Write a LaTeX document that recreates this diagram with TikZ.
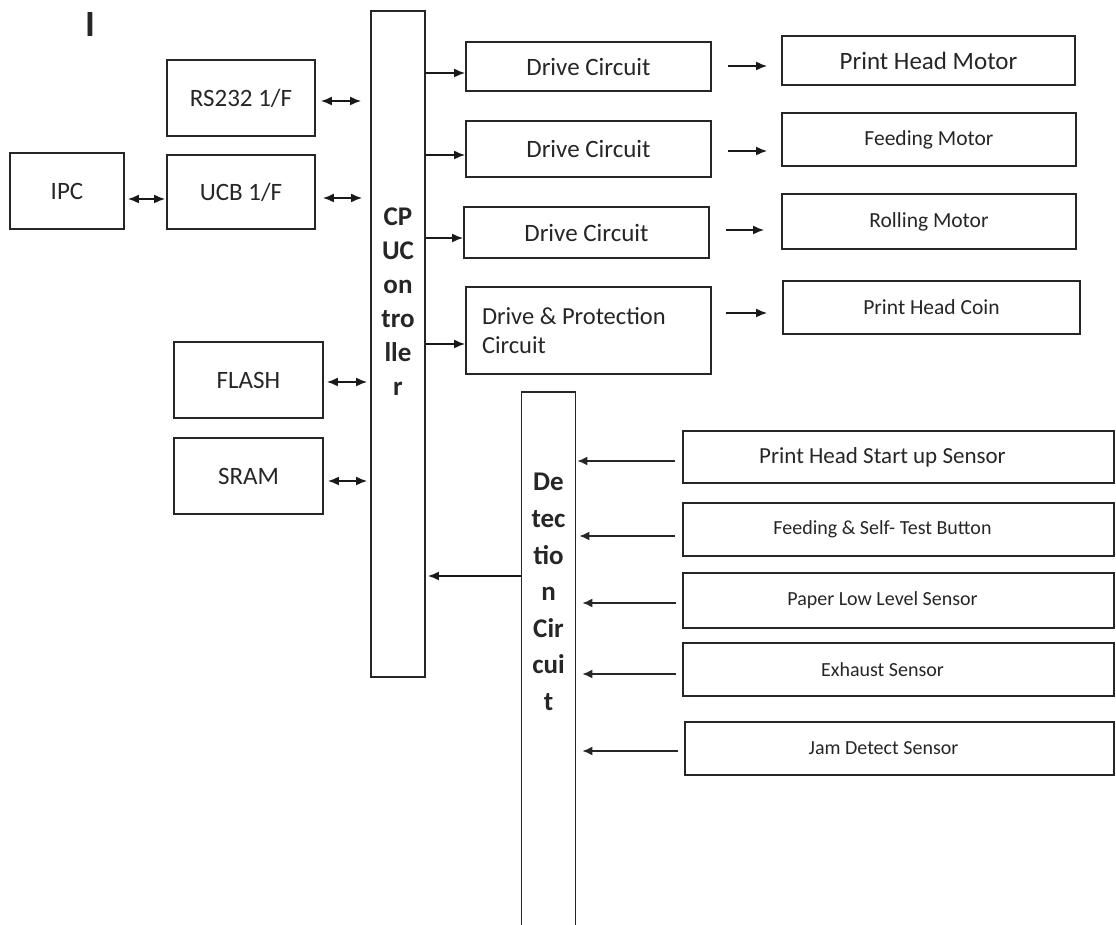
\documentclass[tikz,border=0pt]{standalone}
\usepackage{fontspec}
\setmainfont{Carlito}
\usetikzlibrary{arrows.meta}

\begin{document}
\begin{tikzpicture}[x=0.5pt, y=-0.5pt,
    box/.style={draw=black!85, line width=0.9pt, rectangle, inner sep=0pt, text=black!85,
      font=\fontsize{12.5}{15}\selectfont},
    iface/.style={box, minimum width=74pt, minimum height=38pt},
    drive/.style={box, minimum width=122.5pt},
    motor/.style={box, minimum width=147pt, minimum height=26.5pt, font=\fontsize{10.75}{13}\selectfont},
    sensor/.style={box, minimum width=215.5pt, minimum height=26.5pt},
    sentxt/.style={xshift=-8pt, text=black!85, font=\fontsize{10}{12}\selectfont},
    tall/.style={box, minimum width=27pt},
    talltxt/.style={text=black!85, align=center, font=\bfseries\fontsize{13.5}{17}\selectfont},
    arr/.style={-{Latex[length=5.5pt,width=4.5pt]}, line width=0.9pt, draw=black!90},
    dbl/.style={{Latex[length=5.5pt,width=4.5pt]}-{Latex[length=5.5pt,width=4.5pt]}, line width=0.9pt, draw=black!90},
    sarr/.style={-{Latex[length=5pt,width=4.5pt]}, line width=0.8pt, draw=black!85}]
    \useasboundingbox (0,0) rectangle (1116,925);

    \node[text=black!85, font=\bfseries\fontsize{18.5}{20}\selectfont] (mark) at (90,25) {I};

    % interfaces and memory
    \node[iface, minimum width=57pt] (ipc) at (67,191) {IPC};
    \node[iface] (rs) at (241,98) {RS232 1/F};
    \node[iface, minimum height=37pt] (ucb) at (241,192) {UCB 1/F};
    \node[iface, minimum width=74.5pt] (flash) at (248.5,380) {FLASH};
    \node[iface, minimum width=74.5pt] (sram) at (248.5,476) {SRAM};

    % controller and detection
    \node[tall, minimum height=333pt] (cpu) at (398,344) {};
    \node[talltxt] (cputxt) at (398,302) {CP\\UC\\on\\tro\\lle\\r};
    \node[tall, minimum height=274pt] (det) at (548.5,666) {};
    \node[talltxt, font=\bfseries\fontsize{13.5}{18.3}\selectfont] (dettxt) at (548.5,592)
      {De\\tec\\tio\\n\\Cir\\cui\\t};

    % drives and motors
    \node[drive, minimum height=24.5pt] (drv1) at (588.5,66.5) {Drive Circuit};
    \node[drive, minimum height=28pt] (drv2) at (588.5,149) {Drive Circuit};
    \node[drive, minimum height=25.5pt] (drv3) at (586.5,232.5) {Drive Circuit};
    \node[drive, minimum height=43.5pt, text width=106.5pt, align=flush left, inner xsep=8pt,
      font=\fontsize{12.25}{14.5}\selectfont] (drvp) at (588.5,330.5) {Drive \& Protection\\Circuit};

    \node[motor, minimum width=146.5pt, minimum height=24.5pt, font=\fontsize{12.5}{15}\selectfont]
      (mot1) at (928.5,60.5) {Print Head Motor};
    \node[motor] (mot2) at (929,139.5) {Feeding Motor};
    \node[motor, minimum height=27.5pt] (mot3) at (929,221.5) {Rolling Motor};
    \node[motor, minimum width=148.5pt] (coin) at (931.5,307.5) {Print Head Coin};

    % sensors
    \node[sensor, minimum height=26pt,
      label={[sentxt, font=\fontsize{11.5}{14}\selectfont]center:Print Head Start up Sensor}]
      (sens1) at (898.5,457) {};
    \node[sensor, label={[sentxt]center:Feeding \& Self- Test Button}] (sens2) at (898.5,529.5) {};
    \node[sensor, minimum height=27.5pt, label={[sentxt]center:Paper Low Level Sensor}]
      (sens3) at (898.5,600.5) {};
    \node[sensor, label={[sentxt]center:Exhaust Sensor}] (sens4) at (898.5,669.5) {};
    \node[sensor, minimum width=214.5pt, label={[sentxt]center:Jam Detect Sensor}]
      (sens5) at (899.5,748.5) {};

    % connectors
    \draw[dbl, shorten <=1.5pt, shorten >=0.5pt] (ipc.east |- 0,199) -- (ucb.west |- 0,199);
    \draw[dbl, shorten <=2.5pt, shorten >=4.5pt] (rs.east |- 0,101) -- (cpu.west |- 0,101);
    \draw[dbl, shorten <=3.5pt, shorten >=4pt] (ucb.east |- 0,198) -- (cpu.west |- 0,198);
    \draw[dbl, shorten <=1.5pt, shorten >=1.5pt] (flash.east |- 0,382) -- (cpu.west |- 0,382);
    \draw[dbl, shorten <=2pt, shorten >=1.5pt] (sram.east |- 0,481) -- (cpu.west |- 0,481);

    \draw[arr] (cpu.east |- 0,73) -- (drv1.west |- 0,73);
    \draw[arr] (cpu.east |- 0,155) -- (drv2.west |- 0,155);
    \draw[arr] (cpu.east |- 0,238) -- (drv3.west |- 0,238);
    \draw[arr] (cpu.east |- 0,344) -- (drvp.west |- 0,344);

    \draw[arr, shorten <=8pt, shorten >=7pt] (drv1.east |- 0,66) -- (mot1.west |- 0,66);
    \draw[arr, shorten <=8pt, shorten >=7pt] (drv2.east |- 0,151) -- (mot2.west |- 0,151);
    \draw[arr, shorten <=8pt, shorten >=8.5pt] (drv3.east |- 0,230) -- (mot3.west |- 0,230);
    \draw[arr, shorten <=7pt, shorten >=7.5pt] (drvp.east |- 0,313) -- (coin.west |- 0,313);

    \draw[arr, shorten >=1pt] (det.west |- 0,576) -- (cpu.east |- 0,576);

    \draw[sarr, shorten <=3.5pt, shorten >=0.5pt] (sens1.west |- 0,461) -- (det.east |- 0,461);
    \draw[sarr, shorten <=3.5pt, shorten >=1.5pt] (sens2.west |- 0,536) -- (det.east |- 0,536);
    \draw[sarr, shorten <=3pt, shorten >=3pt] (sens3.west |- 0,603) -- (det.east |- 0,603);
    \draw[sarr, shorten <=3pt, shorten >=3pt] (sens4.west |- 0,674) -- (det.east |- 0,674);
    \draw[sarr, shorten <=3pt, shorten >=3pt] (sens5.west |- 0,751) -- (det.east |- 0,751);
  \end{tikzpicture}
\end{document}
